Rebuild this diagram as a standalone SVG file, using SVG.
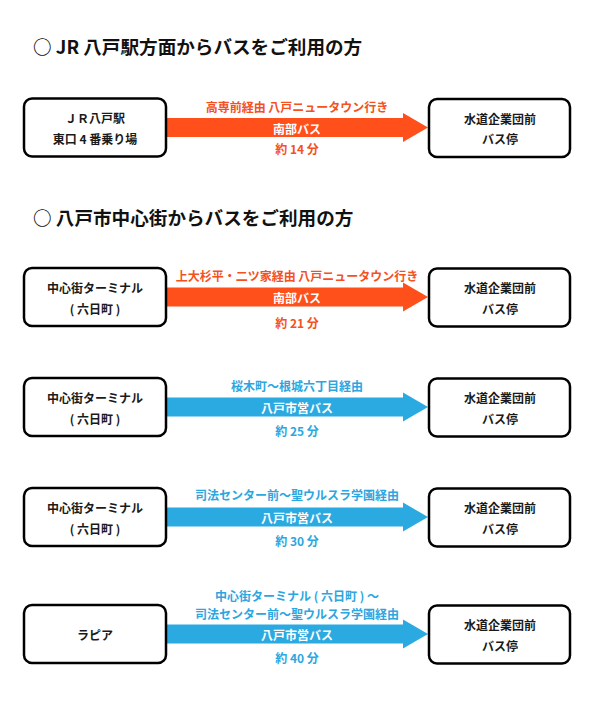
<svg xmlns="http://www.w3.org/2000/svg" width="595" height="707" viewBox="0 0 595 707">
<style>
text{font-family:"Noto Sans CJK JP","Noto Sans",sans-serif;font-weight:bold;dominant-baseline:central;text-anchor:middle}
.title{font-size:18.6px;fill:#111;text-anchor:start}
.box{fill:#fff;stroke:#000;stroke-width:2.5}
.nt{font-size:12px;fill:#1a1a1a}
.lo{font-size:12px;fill:#F4511E}
.lb{font-size:12px;fill:#2CA6DF}
.lw{font-size:12px;fill:#fff}
.ao{fill:#FF4F1A}
.ab{fill:#2BAAE1}
</style>
<rect width="595" height="707" fill="#fff"/>
<text class="title" x="33" y="45">○ JR 八戸駅方面からバスをご利用の方</text>
<text class="title" x="33" y="216">○ 八戸市中心街からバスをご利用の方</text>

<g id="connectors">
<path class="ao" d="M166,118 H403 V113 L428,127.5 L403,142 V137 H166 Z"/>
<path class="ao" d="M166,287.5 H403 V282.5 L428,297 L403,311.5 V306.5 H166 Z"/>
<path class="ab" d="M166,397.5 H403 V392.5 L428,407 L403,421.5 V416.5 H166 Z"/>
<path class="ab" d="M166,507.5 H403 V502.5 L428,517 L403,531.5 V526.5 H166 Z"/>
<path class="ab" d="M166,624.5 H403 V619.5 L428,634 L403,648.5 V643.5 H166 Z"/>
<text class="lo" x="297" y="106">高専前経由 八戸ニュータウン行き</text>
<text class="lw" x="297" y="128">南部バス</text>
<text class="lo" x="297" y="148">約 14 分</text>
<text class="lo" x="297" y="275">上大杉平・二ツ家経由 八戸ニュータウン行き</text>
<text class="lw" x="297" y="297.5">南部バス</text>
<text class="lo" x="297" y="322">約 21 分</text>
<text class="lb" x="297" y="385">桜木町〜根城六丁目経由</text>
<text class="lw" x="297" y="407.5">八戸市営バス</text>
<text class="lb" x="297" y="430">約 25 分</text>
<text class="lb" x="297" y="494">司法センター前〜聖ウルスラ学園経由</text>
<text class="lw" x="297" y="517.5">八戸市営バス</text>
<text class="lb" x="297" y="540.5">約 30 分</text>
<text class="lb" x="297" y="595">中心街ターミナル ( 六日町 ) 〜</text>
<text class="lb" x="297" y="613">司法センター前〜聖ウルスラ学園経由</text>
<text class="lw" x="297" y="634.5">八戸市営バス</text>
<text class="lb" x="297" y="657.5">約 40 分</text>
</g>

<g id="n1"><rect class="box" x="24" y="98.5" width="142" height="58" rx="8"/>
<text class="nt" x="95" y="117">ＪＲ八戸駅</text><text class="nt" x="95" y="138">東口 4 番乗り場</text></g>
<g id="n1r"><rect class="box" x="429" y="99" width="141" height="58" rx="8"/>
<text class="nt" x="500" y="118">水道企業団前</text><text class="nt" x="500" y="138">バス停</text></g>

<g id="n2"><rect class="box" x="24" y="268" width="142" height="58" rx="8"/>
<text class="nt" x="95" y="287">中心街ターミナル</text><text class="nt" x="95" y="308">( 六日町 )</text></g>
<g id="n2r"><rect class="box" x="429" y="268.5" width="141" height="58" rx="8"/>
<text class="nt" x="500" y="287.5">水道企業団前</text><text class="nt" x="500" y="308">バス停</text></g>

<g id="n3"><rect class="box" x="24" y="378" width="142" height="58" rx="8"/>
<text class="nt" x="95" y="397">中心街ターミナル</text><text class="nt" x="95" y="418">( 六日町 )</text></g>
<g id="n3r"><rect class="box" x="429" y="378.5" width="141" height="58" rx="8"/>
<text class="nt" x="500" y="397.5">水道企業団前</text><text class="nt" x="500" y="418">バス停</text></g>

<g id="n4"><rect class="box" x="24" y="488" width="142" height="58" rx="8"/>
<text class="nt" x="95" y="507">中心街ターミナル</text><text class="nt" x="95" y="528">( 六日町 )</text></g>
<g id="n4r"><rect class="box" x="429" y="488.5" width="141" height="58" rx="8"/>
<text class="nt" x="500" y="507.5">水道企業団前</text><text class="nt" x="500" y="528">バス停</text></g>

<g id="n5"><rect class="box" x="24" y="605" width="142" height="58" rx="8"/>
<text class="nt" x="95" y="634">ラピア</text></g>
<g id="n5r"><rect class="box" x="429" y="605.5" width="141" height="58" rx="8"/>
<text class="nt" x="500" y="624.5">水道企業団前</text><text class="nt" x="500" y="645">バス停</text></g>
</svg>
